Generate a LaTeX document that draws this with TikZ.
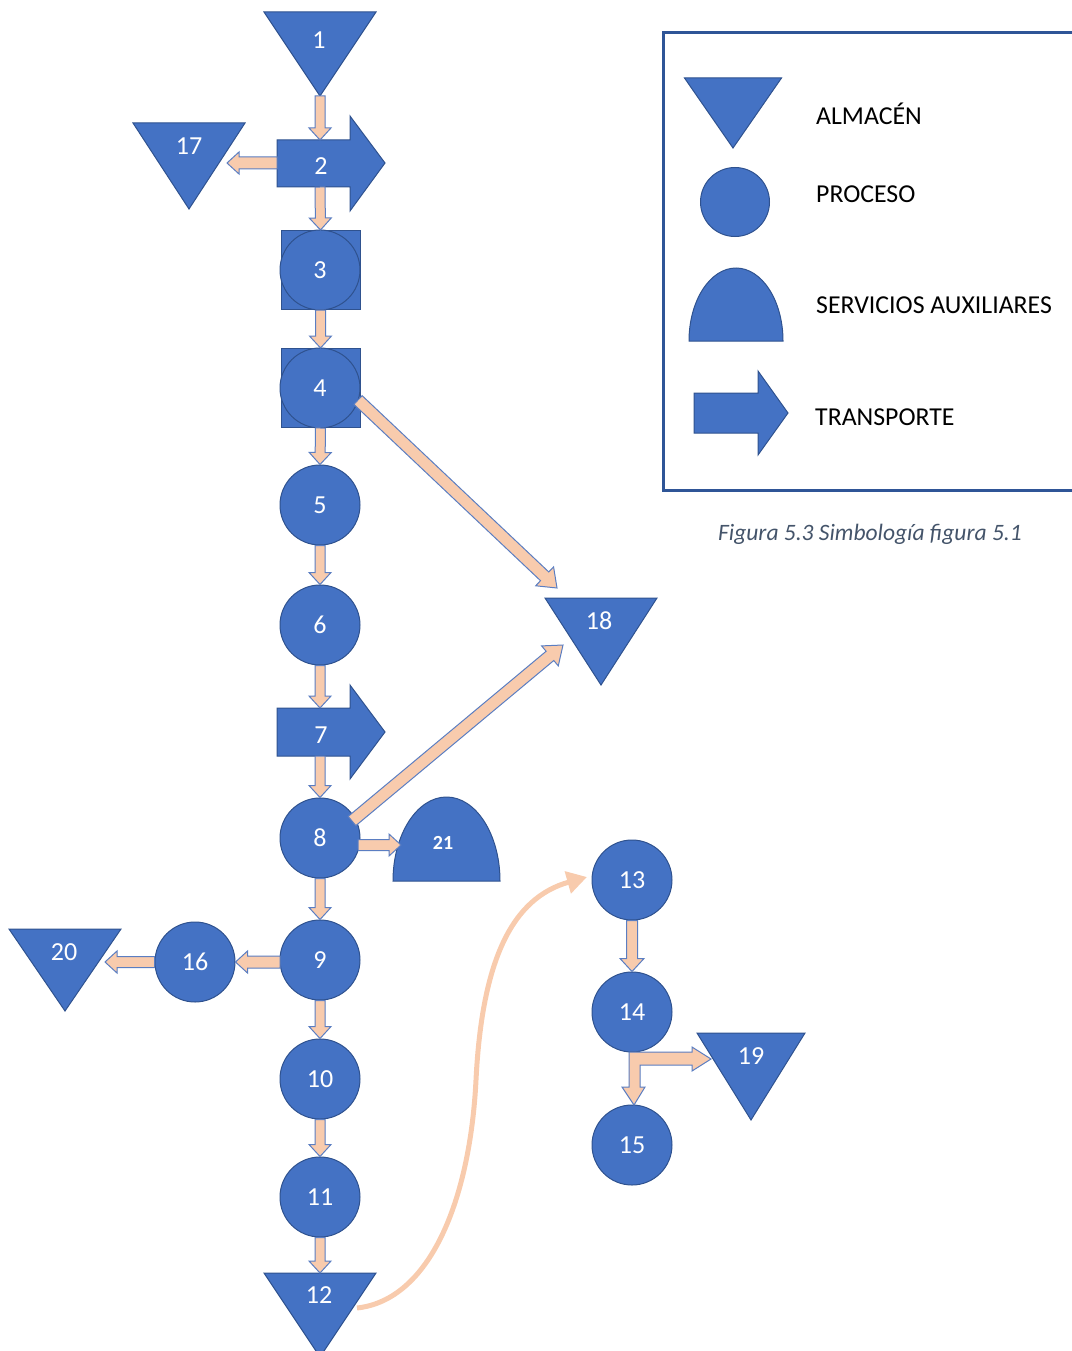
\documentclass[tikz,border=0pt]{standalone}
\usepackage{fontspec}
\setmainfont{Carlito}
\usetikzlibrary{calc,arrows.meta}
\definecolor{shapeblue}{HTML}{4472C4}
\definecolor{shapeedge}{HTML}{2F528F}
\definecolor{peach}{HTML}{F8CBAD}
\definecolor{peachedge}{HTML}{5B7EC2}
\definecolor{legendedge}{HTML}{2F5597}
\definecolor{captioncol}{HTML}{44546A}
\newcommand{\mynumfont}{\fontsize{26}{26}\selectfont}
\newcommand{\mylegfont}{\fontsize{25.8}{28}\selectfont}
% block arrow: start, end, half shaft, half head, head length
\newcommand{\blockarrow}[5]{%
  \coordinate (bh) at ($(#2)!#5!(#1)$);
  \filldraw[barr] ($(#1)!#3!90:(#2)$) -- ($(bh)!#3!90:(#2)$) -- ($(bh)!#4!90:(#2)$) -- (#2)
    -- ($(bh)!#4!-90:(#2)$) -- ($(bh)!#3!-90:(#2)$) -- ($(#1)!#3!-90:(#2)$) -- cycle;}
% storage triangle: cx, top y, half width, apex y
\newcommand{\almacen}[4]{\filldraw[shp] ({#1-#3},#2) -- ({#1+#3},#2) -- (#1,#4) -- cycle;}
% transport arrow: left x, body top, body bottom, head x, head top, head bottom, tip x, tip y
\newcommand{\transporte}[8]{\filldraw[shp] (#1,#2) -- (#4,#2) -- (#4,#5) -- (#7,#8) -- (#4,#6) -- (#4,#3) -- (#1,#3) -- cycle;}
% auxiliary service dome: left x, right x, base y, top y
\newcommand{\servicio}[4]{\filldraw[shp] (#1,#3) .. controls (#1,{#3-0.552*(#3-#4)}) and ({#1+0.224*(#2-#1)},#4) .. ({(#1+#2)/2},#4) .. controls ({#2-0.224*(#2-#1)},#4) and (#2,{#3-0.552*(#3-#4)}) .. (#2,#3) -- cycle;}
\begin{document}
\begin{tikzpicture}[x=1pt,y=-1pt,
  shp/.style={fill=shapeblue, draw=shapeedge, line width=1pt},
  barr/.style={fill=peach, draw=peachedge, line width=1pt},
  num/.style={text=white, font=\mynumfont, inner sep=0pt},
  proc/.style={circle, shp, minimum size=80pt, inner sep=0pt, text=white, font=\mynumfont},
  sqbox/.style={rectangle, shp, minimum size=79pt, inner sep=0pt},
  legtext/.style={anchor=base west, font=\mylegfont, inner sep=0pt},
  curvearr/.style={draw=peach, line width=5pt, -{Triangle[length=20pt,width=22pt]}}]
\useasboundingbox (0,0) rectangle (1071,1351);

% ---------- legend ----------
\draw[legendedge, line width=3pt] (1080,33) -- (663,33) -- (663,490) -- (1080,490);
\almacen{733}{78}{48.5}{148}
\node[legtext] (legA) at (816,125) {ALMACÉN};
\node[circle, shp, minimum size=69pt, inner sep=0pt] (legP) at (735,202) {};
\node[legtext] (legB) at (816,203) {PROCESO};
\servicio{689}{783}{341}{268}
\node[legtext] (legC) at (816,313) {SERVICIOS AUXILIARES};
\transporte{694}{393}{433}{758}{371}{455}{788}{413}
\node[legtext] (legD) at (815,425) {TRANSPORTE};
\node[font=\fontsize{23.5}{26}\selectfont\itshape, text=captioncol, inner sep=0pt] (caption) at (870,534) {Figura 5.3 Simbología figura 5.1};

% ---------- shapes ----------
\almacen{320}{12}{56}{96}
\node[num] (n1) at (319,40) {1};
\coordinate (n1b) at (320,96);

\transporte{277}{140}{187}{350}{116}{211}{385}{163}
\node[num] (n2) at (321,166) {2};
\coordinate (n2t) at (320,140);
\coordinate (n2b) at (320,187);
\coordinate (n2l) at (277,163);

\almacen{189}{123}{56}{209}
\node[num] (n17) at (189,146) {17};
\coordinate (n17r) at (227,163);

\node[sqbox] (n3s) at (320.5,270) {};
\node[proc] (n3) at (320,270) {3};

\node[sqbox] (n4s) at (320.5,388) {};
\node[proc] (n4) at (320,388) {4};
\coordinate (n4r) at (358,400);

\node[proc] (n5) at (320,505) {5};
\node[proc] (n6) at (320,625) {6};

\transporte{277}{708}{756}{350}{685}{779}{385}{732}
\node[num] (n7) at (321,735) {7};
\coordinate (n7t) at (320,708);
\coordinate (n7b) at (320,756);

\node[proc] (n8) at (320,838) {8};
\coordinate (n8r) at (358,845);
\coordinate (n8ne) at (352,821);

\servicio{393}{500}{881}{797}
\node[num, font=\fontsize{20}{20}\selectfont\bfseries] (n21) at (443,843) {21};
\coordinate (n21l) at (401,845);

\almacen{601}{598}{56}{685}
\node[num] (n18) at (599,621) {18};
\coordinate (n18a) at (557,588);
\coordinate (n18b) at (563,645);

\node[proc] (n9) at (320,960) {9};
\coordinate (n9w) at (280,962);
\node[proc] (n16) at (195,962) {16};
\almacen{65}{929}{56}{1011}
\node[num] (n20) at (64,952) {20};
\coordinate (n20r) at (105,962);

\node[proc] (n10) at (320,1079) {10};
\node[proc] (n11) at (320,1197) {11};

\almacen{320}{1273}{56}{1357}
\node[num] (n12) at (319,1295) {12};
\coordinate (n12t) at (320,1273);
\coordinate (n12r) at (357,1308);

\node[proc] (n13) at (632,880) {13};
\coordinate (n13w) at (587,877);
\node[proc] (n14) at (632,1012) {14};
\node[proc] (n15) at (632,1145) {15};

\almacen{751}{1033}{54}{1120}
\node[num] (n19) at (751,1056) {19};

% ---------- connectors ----------
\blockarrow{n1b}{n2t}{5pt}{11pt}{12pt}
\blockarrow{n2l}{n17r}{6pt}{11pt}{12pt}
\blockarrow{n2b}{n3s.north}{5pt}{11pt}{12pt}
\blockarrow{n3s.south}{n4s.north}{5pt}{11pt}{12pt}
\blockarrow{n4s.south}{n5.north}{5pt}{11pt}{12pt}
\blockarrow{n5.south}{n6.north}{5pt}{11pt}{12pt}
\blockarrow{n6.south}{n7t}{5pt}{11pt}{12pt}
\blockarrow{n7b}{n8.north}{5pt}{11pt}{12pt}
\blockarrow{n4r}{n18a}{6pt}{13pt}{17pt}
\blockarrow{n8ne}{n18b}{6pt}{13pt}{17pt}
\blockarrow{n8r}{n21l}{5.5pt}{11pt}{12pt}
\blockarrow{n8.south}{n9.north}{5pt}{11pt}{12pt}
\blockarrow{n9w}{n16.east}{6pt}{11pt}{12pt}
\blockarrow{n16.west}{n20r}{5.5pt}{11pt}{12pt}
\blockarrow{n9.south}{n10.north}{5pt}{11pt}{12pt}
\blockarrow{n10.south}{n11.north}{5pt}{11pt}{12pt}
\blockarrow{n11.south}{n12t}{5pt}{11pt}{12pt}
\blockarrow{n13.south}{n14.north}{5.5pt}{12pt}{13pt}

% elbow arrow from 14 to 19 and 15
\filldraw[barr] (629,1052) -- (692,1052) -- (692,1047) -- (711,1059) -- (692,1071) -- (692,1065)
  -- (640,1065) -- (640,1087) -- (645,1087) -- (634,1105) -- (622,1087) -- (629,1087) -- cycle;

% curved connector 12 -> 13
\draw[curvearr] (n12r) .. controls (430,1300) and (470,1200) .. (476,1080)
  .. controls (482,960) and (512,898) .. (n13w);
\end{tikzpicture}
\end{document}
